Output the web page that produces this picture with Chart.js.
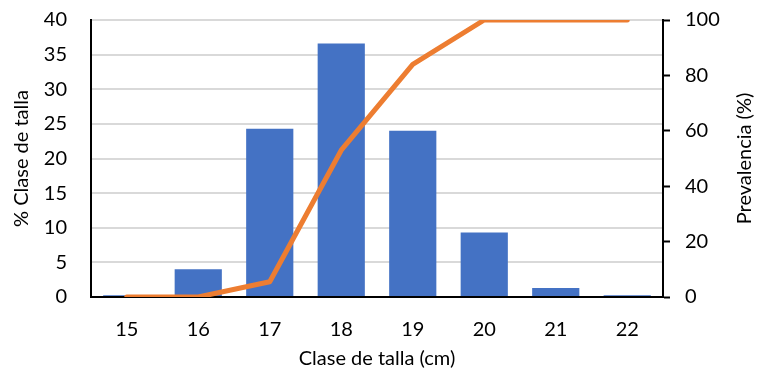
<!DOCTYPE html>
<html>
<head>
<meta charset="utf-8">
<script src="https://cdn.jsdelivr.net/npm/chart.js@4"></script>
<style>
  html, body { margin: 0; padding: 0; background: #fff; }
  #wrap { width: 761px; height: 381px; }
</style>
</head>
<body>
<div id="wrap"><canvas id="grafico" width="761" height="381"></canvas></div>
<script>
'use strict';

// dati
const clases = ['15', '16', '17', '18', '19', '20', '21', '22'];
const pctClase = [0.25, 4.0, 24.3, 36.6, 24.0, 9.3, 1.3, 0.25];
const prevalencia = [0, 0, 5.5, 53, 84, 100, 100, 100];
const ticksIzq = [0, 5, 10, 15, 20, 25, 30, 35, 40];
const ticksDer = [0, 20, 40, 60, 80, 100];
const tituloDer = 'Prevalencia (%)';

const FONT = 'Lato, "Open Sans", sans-serif';
const SIZE = 20;
const txt = '#000';

// titolo asse destro letto dal basso verso l'alto, come nell'originale
const tituloDerPlugin = {
  id: 'tituloDer',
  afterDraw(chart) {
    const s = chart.scales.yDer;
    const c = chart.ctx;
    c.save();
    c.translate(s.right - 16, (s.top + s.bottom) / 2);
    c.rotate(-Math.PI / 2);
    c.font = SIZE + 'px ' + FONT;
    c.fillStyle = txt;
    c.textAlign = 'center';
    c.textBaseline = 'middle';
    c.fillText(tituloDer, 0, 0);
    c.restore();
  }
};

// niente padding automatico sulle scale: l'area del grafico resta fissa
function noPad(s) {
  s.paddingTop = 0; s.paddingBottom = 0;
  s.paddingLeft = 0; s.paddingRight = 0;
}

const ctx = document.getElementById('grafico').getContext('2d');

new Chart(ctx, {
  data: {
    labels: clases,
    datasets: [
      {
        type: 'line',
        label: 'Prevalencia',
        data: prevalencia,
        yAxisID: 'yDer',
        borderColor: '#ED7D31',
        borderWidth: 5,
        pointRadius: 0,
        tension: 0,
        borderCapStyle: 'round',
        borderJoinStyle: 'round',
        order: 0
      },
      {
        type: 'bar',
        label: '% Clase de talla',
        data: pctClase,
        yAxisID: 'yIzq',
        backgroundColor: '#4472C4',
        categoryPercentage: 0.66,
        barPercentage: 1,
        order: 1
      }
    ]
  },
  options: {
    responsive: false,
    animation: false,
    layout: { padding: { top: 20, left: 0, right: 0, bottom: 0 } },
    plugins: { legend: { display: false }, tooltip: { enabled: false } },
    scales: {
      x: {
        grid: { display: false, drawTicks: false },
        border: { color: '#000', width: 2 },
        ticks: { color: txt, font: { family: FONT, size: SIZE }, padding: 21 },
        title: { display: true, text: 'Clase de talla (cm)', color: txt, font: { family: FONT, size: SIZE }, padding: { top: 4, bottom: 10 } },
        afterFit: s => { s.height = 84; noPad(s); }
      },
      yIzq: {
        position: 'left',
        min: 0, max: 40,
        afterBuildTicks: s => { s.ticks = ticksIzq.map(v => ({ value: v })); },
        grid: { color: '#d9d9d9', lineWidth: 2, drawTicks: false },
        border: { color: '#000', width: 2 },
        ticks: { color: txt, font: { family: FONT, size: SIZE }, padding: 24 },
        title: { display: true, text: '% Clase de talla', color: txt, font: { family: FONT, size: SIZE }, padding: { top: 10, bottom: 0 } },
        afterFit: s => { s.width = 91; noPad(s); }
      },
      yDer: {
        position: 'right',
        min: 0, max: 100,
        afterBuildTicks: s => { s.ticks = ticksDer.map(v => ({ value: v })); },
        grid: { drawOnChartArea: false, drawTicks: true, tickLength: 7, tickColor: '#000', tickWidth: 2 },
        border: { color: '#000', width: 2 },
        ticks: { color: txt, font: { family: FONT, size: SIZE }, padding: 15 },
        title: { display: false },
        afterFit: s => { s.width = 98; noPad(s); }
      }
    }
  },
  plugins: [tituloDerPlugin]
});
</script>
</body>
</html>
